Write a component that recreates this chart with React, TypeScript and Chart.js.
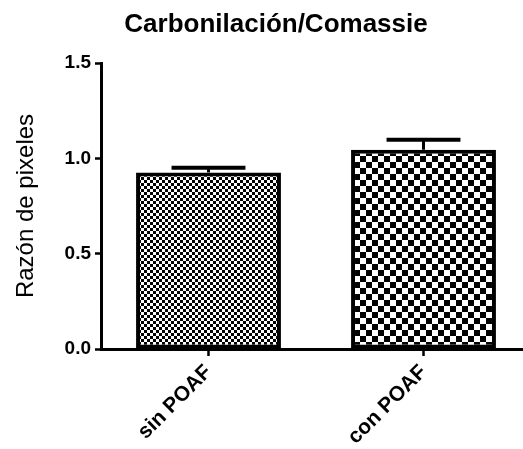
import React, { useEffect, useRef } from 'react';
import { Chart, registerables } from 'chart.js';

Chart.register(...registerables);

const categories = ['sin POAF', 'con POAF'];
const means = [0.926, 1.045];
const errors = [0.025, 0.052];
const yMin = 0;
const yMax = 1.5;
const yStep = 0.5;
const chartTitle = 'Carbonilación/Comassie';
const yTitle = 'Razón de pixeles';
const checkerSizes = [3, 6];

const FONT = '"Liberation Sans", Arial, Helvetica, sans-serif';

function makeChecker(ctx: CanvasRenderingContext2D, size: number) {
  const c = document.createElement('canvas');
  c.width = size * 2;
  c.height = size * 2;
  const g = c.getContext('2d')!;
  g.fillStyle = '#ffffff';
  g.fillRect(0, 0, size * 2, size * 2);
  g.fillStyle = '#000000';
  g.fillRect(0, 0, size, size);
  g.fillRect(size, size, size, size);
  return ctx.createPattern(c, 'repeat')!;
}

const errorBarPlugin = {
  id: 'errorBars',
  afterDatasetsDraw(chart: any) {
    const ctx = chart.ctx;
    const meta = chart.getDatasetMeta(0);
    const y = chart.scales.y;
    ctx.save();
    ctx.strokeStyle = '#000';
    meta.data.forEach((bar: any, i: number) => {
      const base = y.getPixelForValue(means[i]);
      const top = y.getPixelForValue(means[i] + errors[i]);
      const half = bar.width * 0.255;
      ctx.lineWidth = 3;
      ctx.beginPath();
      ctx.moveTo(bar.x, base);
      ctx.lineTo(bar.x, top);
      ctx.stroke();
      ctx.lineWidth = 4;
      ctx.beginPath();
      ctx.moveTo(bar.x - half, top);
      ctx.lineTo(bar.x + half, top);
      ctx.stroke();
    });
    ctx.restore();
  },
};

const titlePlugin = {
  id: 'customTitle',
  afterDraw(chart: any) {
    const ctx = chart.ctx;
    ctx.save();
    ctx.fillStyle = '#000';
    ctx.font = `bold 26px ${FONT}`;
    ctx.textAlign = 'center';
    ctx.textBaseline = 'alphabetic';
    ctx.fillText(chartTitle, 276, 32);
    ctx.restore();
  },
};

export default function App() {
  const ref = useRef<HTMLCanvasElement | null>(null);

  useEffect(() => {
    const canvas = ref.current!;
    const ctx = canvas.getContext('2d')!;
    const patterns = checkerSizes.map((s) => makeChecker(ctx, s));
    const chart = new Chart(canvas, {
      type: 'bar',
      data: {
        labels: categories,
        datasets: [
          {
            data: means,
            backgroundColor: patterns,
            borderColor: '#000',
            borderWidth: 4,
            borderSkipped: false,
            barPercentage: 0.674,
            categoryPercentage: 1,
          },
        ],
      },
      options: {
        responsive: false,
        animation: false,
        devicePixelRatio: 1,
        layout: { padding: { top: 63, right: 3, left: 0, bottom: 0 } },
        plugins: {
          legend: { display: false },
          tooltip: { enabled: false },
          title: { display: false },
        },
        scales: {
          x: {
            type: 'category',
            offset: true,
            afterFit: (s: any) => {
              s.height = 100;
            },
            grid: {
              display: true,
              drawOnChartArea: false,
              offset: false,
              tickLength: 7,
              tickWidth: 2.5,
              color: '#000',
              tickColor: '#000',
            },
            border: { display: true, color: '#000', width: 3 },
            ticks: {
              maxRotation: 45,
              minRotation: 45,
              padding: 4,
              color: '#000',
              font: { family: FONT, size: 21, weight: 'bold' },
            },
          },
          y: {
            min: yMin,
            max: yMax,
            afterFit: (s: any) => {
              s.width = 101;
            },
            grid: {
              display: true,
              drawOnChartArea: false,
              tickLength: 6,
              tickWidth: 2.5,
              color: '#000',
              tickColor: '#000',
            },
            border: { display: true, color: '#000', width: 3 },
            ticks: {
              stepSize: yStep,
              padding: 4,
              color: '#000',
              font: { family: FONT, size: 19, weight: 'bold' },
              callback: (v: any) => Number(v).toFixed(1),
            },
            title: {
              display: true,
              text: yTitle,
              color: '#000',
              font: { family: FONT, size: 24, weight: 'normal' },
              padding: { top: 12, bottom: 0 },
            },
          },
        },
      },
      plugins: [errorBarPlugin, titlePlugin],
    });
    return () => chart.destroy();
  }, []);

  return (
    <div
      style={{
        position: 'absolute',
        left: 0,
        top: 0,
        width: 523,
        height: 449,
        overflow: 'hidden',
        background: '#fff',
      }}
    >
      <canvas ref={ref} width={534} height={449} style={{ display: 'block', width: 534, height: 449 }} />
    </div>
  );
}
